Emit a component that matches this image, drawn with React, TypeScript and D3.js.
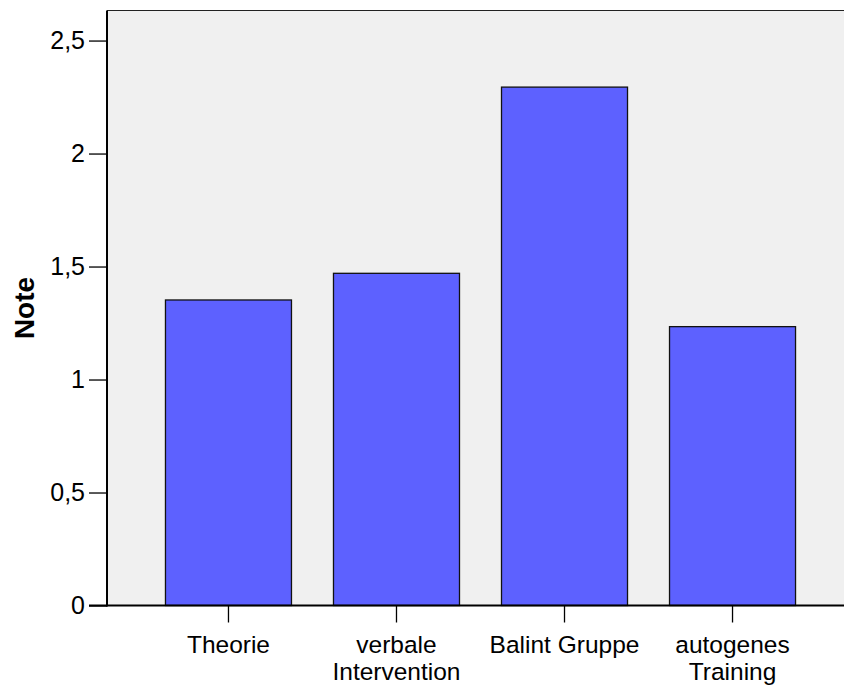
import React, { useEffect, useRef } from 'react';
import * as d3 from 'd3';

const categories = ['Theorie', 'verbale Intervention', 'Balint Gruppe', 'autogenes Training'];
const labelLines = [['Theorie'], ['verbale', 'Intervention'], ['Balint Gruppe'], ['autogenes', 'Training']];
const values = [1.352, 1.47, 2.294, 1.234];
const yTicks = [0, 0.5, 1, 1.5, 2, 2.5];
const yLabel = 'Note';

export default function App() {
  const svgRef = useRef<SVGSVGElement>(null);

  useEffect(() => {
    if (!svgRef.current) return;
    const svg = d3.select(svgRef.current);
    svg.selectAll('*').remove();

    const width = 844;
    const height = 686;
    const left = 107;
    const top = 10.5;
    const bottom = 605.5;
    const font = '"Liberation Sans", Arial, Helvetica, sans-serif';

    const y = d3.scaleLinear().domain([0, 2.633]).range([bottom, top]);
    const x = d3.scaleBand<string>()
      .domain(categories)
      .range([left, 854])
      .paddingInner(0.25)
      .paddingOuter(0.348);

    // plot background
    svg.append('rect')
      .attr('x', left).attr('y', top)
      .attr('width', width - left).attr('height', bottom - top)
      .attr('fill', '#f0f0f0');
    svg.append('line')
      .attr('x1', left).attr('x2', width)
      .attr('y1', top).attr('y2', top)
      .attr('stroke', '#222').attr('stroke-width', 1.2);

    // bars
    svg.append('g').selectAll('rect')
      .data(categories)
      .enter()
      .append('rect')
      .attr('x', d => x(d)!)
      .attr('y', (d, i) => y(values[i]))
      .attr('width', x.bandwidth())
      .attr('height', (d, i) => bottom - y(values[i]))
      .attr('fill', '#5d61ff')
      .attr('stroke', '#111')
      .attr('stroke-width', 1.3);

    // y axis
    const yAxis = svg.append('g')
      .attr('transform', `translate(${left},0)`)
      .call(d3.axisLeft(y).tickValues(yTicks).tickSize(18).tickPadding(4)
        .tickFormat(d => String(d).replace('.', ',')));
    yAxis.select('.domain').remove();
    yAxis.selectAll('line').attr('stroke', '#000').attr('stroke-width', 1.3);
    yAxis.selectAll('text').attr('font-family', font).attr('font-size', 25).attr('fill', '#000');
    svg.append('line')
      .attr('x1', left).attr('x2', left)
      .attr('y1', top).attr('y2', bottom + 1)
      .attr('stroke', '#000').attr('stroke-width', 2);

    // x axis
    const xAxis = svg.append('g')
      .attr('transform', `translate(0,${bottom})`)
      .call(d3.axisBottom(x).tickSize(17).tickFormat(() => ''));
    xAxis.select('.domain').remove();
    xAxis.selectAll('line').attr('stroke', '#000').attr('stroke-width', 1.3);
    svg.append('line')
      .attr('x1', left - 18).attr('x2', width)
      .attr('y1', bottom).attr('y2', bottom)
      .attr('stroke', '#000').attr('stroke-width', 2);

    const lbl = svg.append('g').selectAll('text')
      .data(categories)
      .enter()
      .append('text')
      .attr('x', d => x(d)! + x.bandwidth() / 2)
      .attr('y', 653)
      .attr('text-anchor', 'middle')
      .attr('font-family', font)
      .attr('font-size', 24.5)
      .attr('fill', '#000');
    lbl.each(function (d, i) {
      const t = d3.select(this);
      labelLines[i].forEach((line, j) => {
        t.append('tspan')
          .attr('x', x(d)! + x.bandwidth() / 2)
          .attr('dy', j === 0 ? 0 : 26.5)
          .text(line);
      });
    });

    // y label
    svg.append('text')
      .attr('transform', `translate(34,${(top + bottom) / 2}) rotate(-90)`)
      .attr('text-anchor', 'middle')
      .attr('font-family', font)
      .attr('font-size', 28)
      .attr('font-weight', 'bold')
      .attr('fill', '#000')
      .text(yLabel);
  }, []);

  return (
    <svg
      ref={svgRef}
      width={844}
      height={686}
      style={{ position: 'absolute', left: 0, top: 0, background: '#fff' }}
    />
  );
}
